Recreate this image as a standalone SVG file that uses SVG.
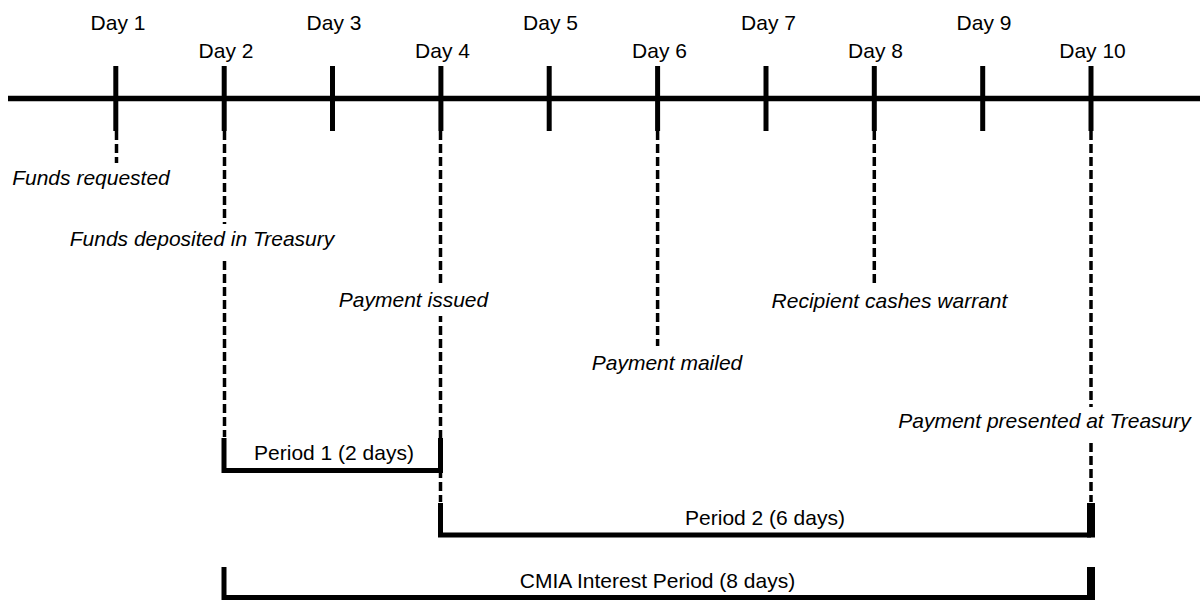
<svg xmlns="http://www.w3.org/2000/svg" width="1200" height="600" viewBox="0 0 1200 600">
<style>
text{font-family:"Liberation Sans",Arial,sans-serif;font-size:21px;fill:#000;text-anchor:middle}
.ev{font-style:italic}
.tick{stroke:#000;stroke-width:5}
.dash{stroke:#000;stroke-width:3.5;stroke-dasharray:9 4;fill:none}
.br{stroke:#000;stroke-width:5;fill:none}
.bg{fill:#fff}
</style>
<rect width="1200" height="600" fill="#fff"/>
<g id="connectors">
<line class="dash" x1="116.5" y1="131" x2="116.5" y2="163"/>
<line class="dash" x1="224.5" y1="131" x2="224.5" y2="437"/>
<line class="dash" x1="440.5" y1="131" x2="440.5" y2="502"/>
<line class="dash" x1="657.6" y1="131" x2="657.6" y2="346"/>
<line class="dash" x1="874.3" y1="131" x2="874.3" y2="284"/>
<line class="dash" x1="1091" y1="131" x2="1091" y2="502"/>
</g>
<g id="axis">
<line x1="8" y1="98.5" x2="1200" y2="98.5" stroke="#000" stroke-width="5.5"/>
<line class="tick" x1="115.8" y1="66" x2="115.8" y2="131"/>
<line class="tick" x1="224.2" y1="66" x2="224.2" y2="131"/>
<line class="tick" x1="332.5" y1="66" x2="332.5" y2="131"/>
<line class="tick" x1="440.9" y1="66" x2="440.9" y2="131"/>
<line class="tick" x1="549.2" y1="66" x2="549.2" y2="131"/>
<line class="tick" x1="657.6" y1="66" x2="657.6" y2="131"/>
<line class="tick" x1="766" y1="66" x2="766" y2="131"/>
<line class="tick" x1="874.3" y1="66" x2="874.3" y2="131"/>
<line class="tick" x1="982.7" y1="66" x2="982.7" y2="131"/>
<line class="tick" x1="1091" y1="66" x2="1091" y2="131" stroke-width="8"/>
</g>
<g id="day-labels">
<text x="118" y="30">Day 1</text>
<text x="226" y="58">Day 2</text>
<text x="334" y="30">Day 3</text>
<text x="442.5" y="58">Day 4</text>
<text x="550.5" y="30">Day 5</text>
<text x="659.5" y="58">Day 6</text>
<text x="768.5" y="30">Day 7</text>
<text x="875.5" y="58">Day 8</text>
<text x="984" y="30">Day 9</text>
<text x="1092.5" y="58">Day 10</text>
</g>
<g id="funds-requested"><text class="ev" x="91" y="185">Funds requested</text></g>
<g id="funds-deposited"><rect class="bg" x="66" y="224" width="272" height="33"/><text class="ev" x="202" y="246">Funds deposited in Treasury</text></g>
<g id="payment-issued"><rect class="bg" x="336" y="287" width="155" height="29"/><text class="ev" x="413.5" y="307">Payment issued</text></g>
<g id="recipient-cashes"><text class="ev" x="889.5" y="308">Recipient cashes warrant</text></g>
<g id="payment-mailed"><text class="ev" x="667" y="370">Payment mailed</text></g>
<g id="payment-presented"><rect class="bg" x="895" y="407" width="299" height="33"/><text class="ev" x="1044.5" y="428">Payment presented at Treasury</text></g>
<g id="period-1">
<path class="br" d="M224,438 V470.5 H440.5 V438"/>
<text x="334" y="460">Period 1 (2 days)</text>
</g>
<g id="period-2">
<path class="br" d="M440.5,503 V535 H1091"/>
<line x1="1091" y1="503" x2="1091" y2="537.5" stroke="#000" stroke-width="8"/>
<text x="765" y="525">Period 2 (6 days)</text>
</g>
<g id="cmia-period">
<path class="br" d="M224,567 V597.5 H1091"/>
<line x1="1091" y1="567" x2="1091" y2="600" stroke="#000" stroke-width="8"/>
<text x="657.5" y="588">CMIA Interest Period (8 days)</text>
</g>
</svg>
